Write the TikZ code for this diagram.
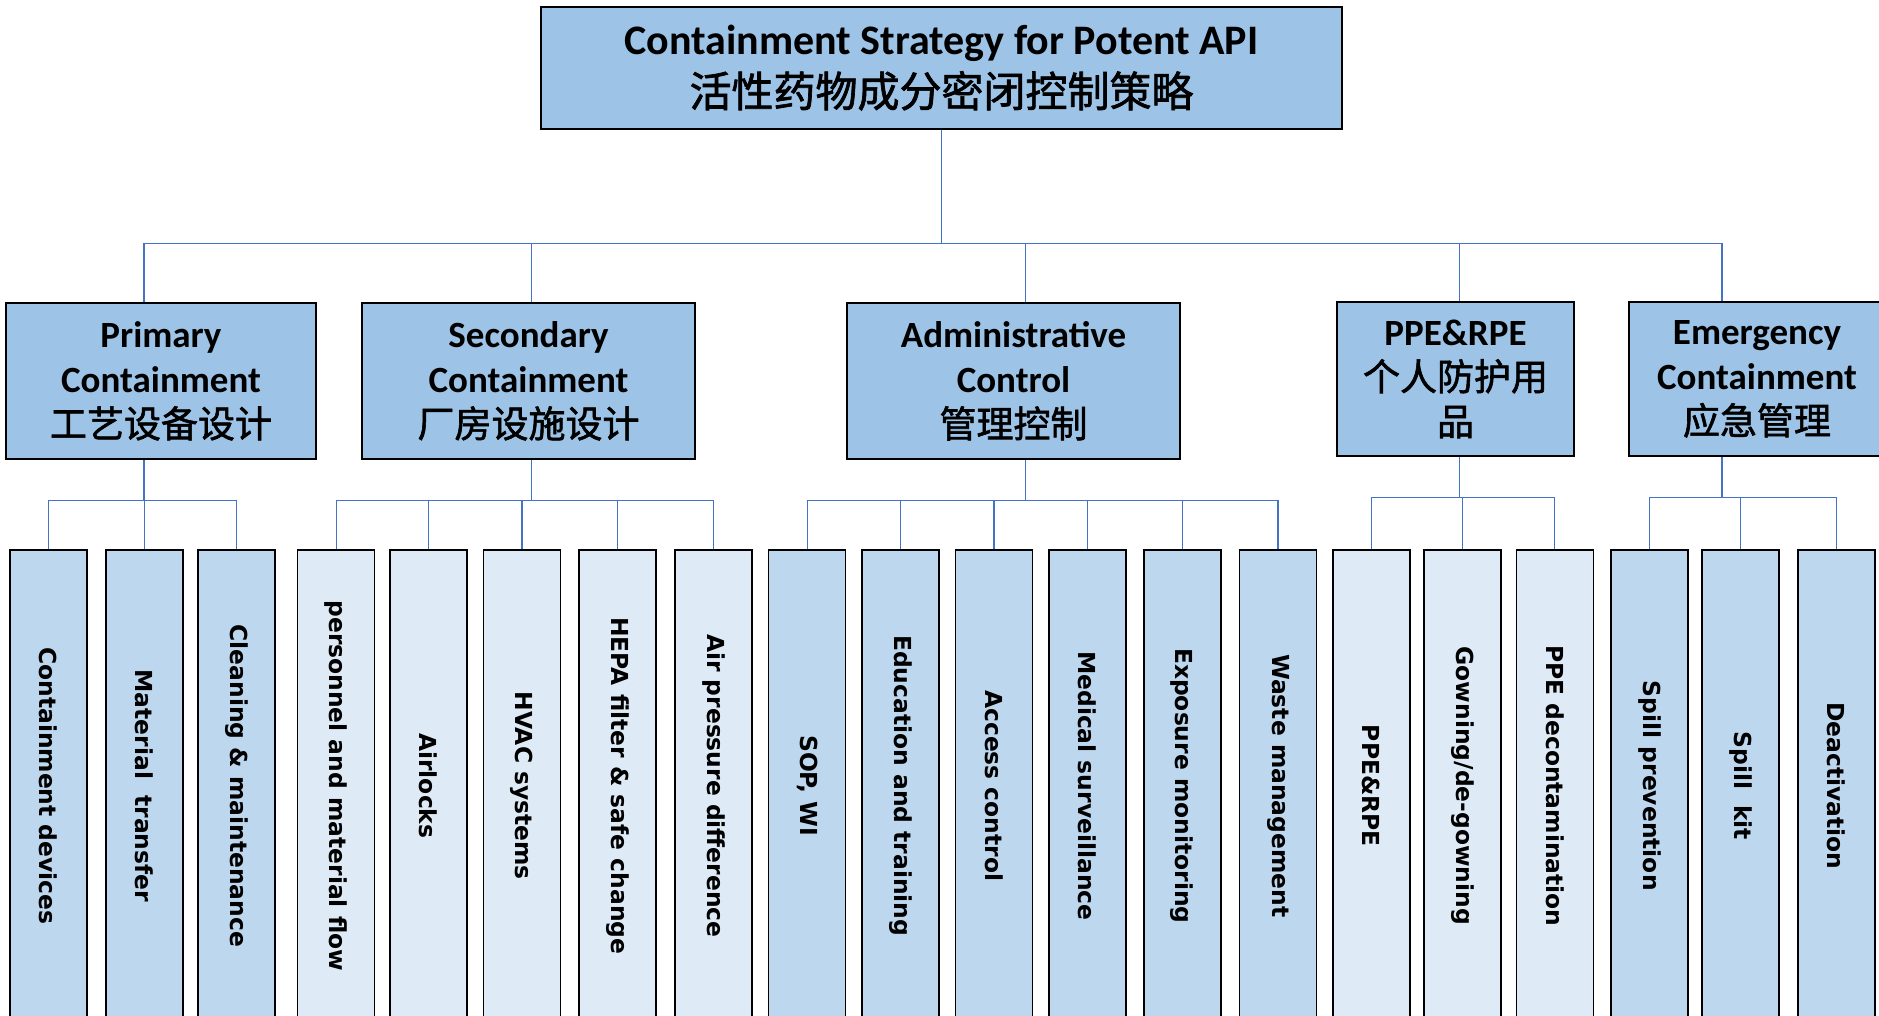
\documentclass[tikz,border=0pt]{standalone}
\usepackage{fontspec}
\setmainfont{Carlito}
\newfontfamily\cjk{Noto Sans CJK SC}[BoldFont={Noto Sans CJK SC}, BoldFeatures={FakeBold=1.6}]
\newfontfamily\leaffont{DejaVu Sans}
\usetikzlibrary{positioning}
\definecolor{boxblue}{HTML}{9DC3E6}
\definecolor{leafmid}{HTML}{BDD7EE}
\definecolor{leaflight}{HTML}{DEEBF7}
\definecolor{linkblue}{HTML}{4472C4}
\newcommand{\zh}[1]{{\cjk #1}}

\begin{document}
\begin{tikzpicture}[x=1pt, y=-1pt,
        head/.style={draw=black, line width=1.6pt, fill=boxblue, align=center, inner sep=0pt,
            font=\bfseries\fontsize{37}{45}\selectfont},
        leaf/.style={draw=black, line width=1.6pt, rotate=-90, anchor=west, inner sep=0pt,
            minimum width=472pt, minimum height=77pt,
            font=\leaffont\bfseries\fontsize{23.4}{28}\selectfont},
        link/.style={linkblue, line width=1.2pt}]
        \clip (0,0) rectangle (1879,1016);
        % Strategy and its five branches
        \node[head, minimum width=801pt, minimum height=122pt, font=\bfseries\fontsize{42}{52}\selectfont]
            (top) at (941.5,68) {Containment Strategy for Potent API\\\zh{活性药物成分密闭控制策略}};
        \node[head, minimum width=310pt, minimum height=156pt] (prim) at (161,381)
            {Primary\\Containment\\\zh{工艺设备设计}};
        \node[head, minimum width=333pt, minimum height=156pt] (sec) at (528.5,381)
            {Secondary\\Containment\\\zh{厂房设施设计}};
        \node[head, minimum width=333pt, minimum height=156pt] (admin) at (1013.5,381)
            {Administrative\\Control\\\zh{管理控制}};
        \node[head, minimum width=237pt, minimum height=154pt] (ppe) at (1455.5,379)
            {PPE\&RPE\\\zh{个人防护用}\\\zh{品}};
        \node[head, minimum width=256pt, minimum height=154pt] (emer) at (1757,379)
            {Emergency\\Containment\\\zh{应急管理}};
        % Measures
        \foreach \i/\x/\txt/\col in {1/48.5/{Containment devices}/leafmid, 2/144.4/{Material\ \ transfer}/leafmid,
                3/236.7/{Cleaning \& maintenance}/leafmid, 4/336.1/{personnel and material flow}/leaflight,
                5/428.4/{Airlocks}/leaflight, 6/521.9/{HVAC systems}/leaflight,
                7/617.7/{HEPA filter \& safe change}/leaflight, 8/713.6/{Air pressure difference}/leaflight,
                9/807.1/{SOP, WI}/leafmid, 10/900.6/{Education and training}/leafmid,
                11/994/{Access control}/leafmid, 12/1087.5/{Medical surveillance}/leafmid,
                13/1182.2/{Exposure monitoring}/leafmid, 14/1278/{Waste management}/leafmid,
                15/1371.5/{PPE\&RPE}/leaflight, 16/1462.6/{Gowning/de-gowning}/leaflight,
                17/1554.8/{PPE decontamination}/leaflight, 18/1649.5/{Spill prevention}/leafmid,
                19/1740.5/{Spill\ \ kit}/leafmid, 20/1836.4/{Deactivation}/leafmid} {
                \node[leaf, fill=\col] (c\i) at (\x,549) {\txt};
            }
        % Links to the branches
        \draw[link] (top.south) -- ++(0,114) coordinate (bus);
        \foreach \n/\dx in {prim/-17, sec/3, admin/12, ppe/4, emer/-35} {
                \draw[link] (bus) -| ([xshift=\dx pt]\n.north);
            }
        % Links to the measures
        \foreach \p/\dx/\a/\b in {prim/-17/1/3, sec/3/4/8, admin/12/9/14, ppe/4/15/17, emer/-35/18/20} {
                \draw[link] ([xshift=\dx pt]\p.south) -- ++(0,41) coordinate (sub);
                \foreach \j in {\a,...,\b} {
                        \draw[link] (sub) -| (c\j.west);
                    }
            }
    \end{tikzpicture}
\end{document}
